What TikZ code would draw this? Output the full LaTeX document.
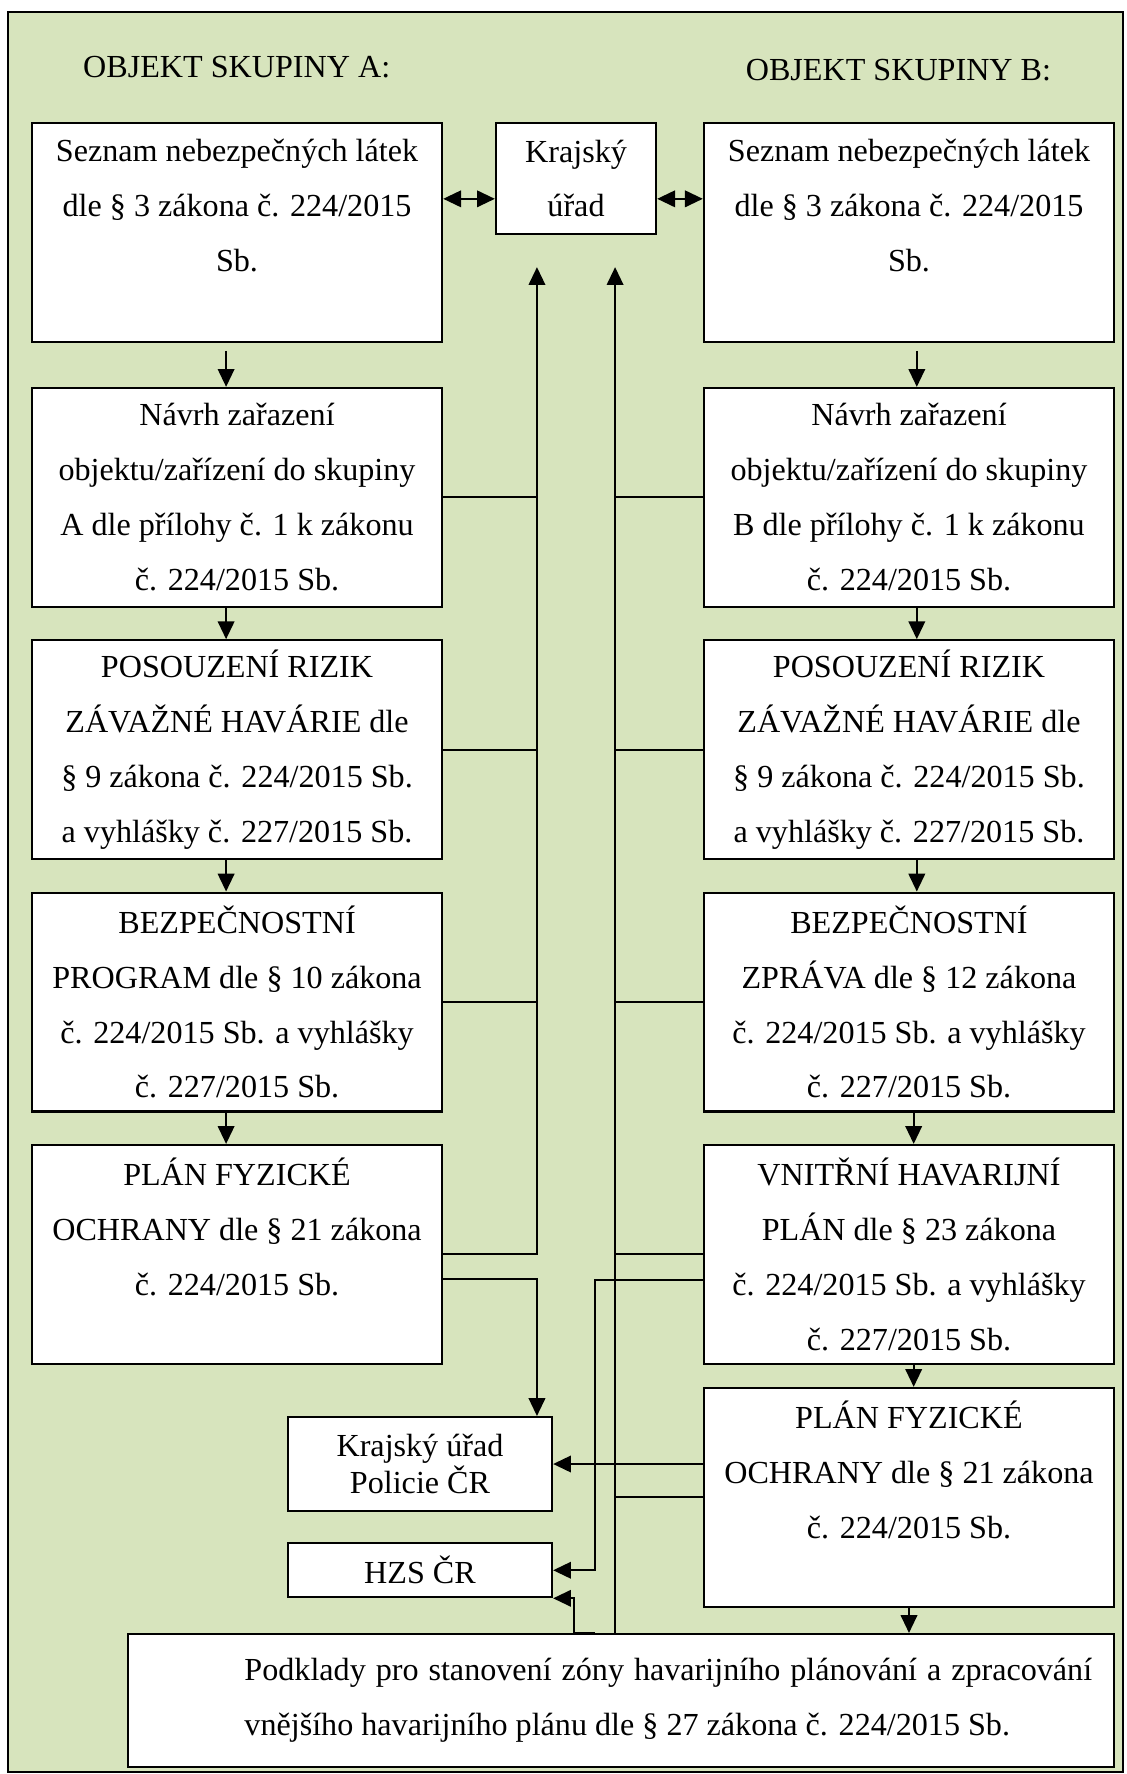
\documentclass[tikz,border=0pt]{standalone}
\usepackage{fontspec}
\setmainfont{Liberation Serif}
\usetikzlibrary{arrows.meta}
\definecolor{pozadi}{RGB}{215,228,189}
\tikzset{
  krok/.style={rectangle, draw, fill=white, minimum width=5.25cm, minimum height=2.8cm, align=center, font=\fontsize{11.7}{20}\selectfont},
  urad/.style={rectangle, draw, fill=white, align=center, font=\fontsize{11.7}{20}\selectfont},
  nadpis/.style={font=\fontsize{11.7}{14}\selectfont}
}

\begin{document}
\begin{tikzpicture}[node distance=3.23cm, thick, >={Triangle[length=6.5pt,width=6pt]}]
                % Pozadí
                \useasboundingbox (0,0) rectangle (14.413,-22.707);
                \draw[fill=pozadi] (0.10,-0.15) rectangle (14.37,-22.68);

                % Nadpisy
                \node (nadpisA) at (3.03,-0.86) [nadpis] {OBJEKT SKUPINY A:};
                \node (nadpisB) at (11.50,-0.90) [nadpis] {OBJEKT SKUPINY B:};

                % Skupina A
                \node (A1) at (3.034,-2.976) [krok] {Seznam nebezpečných látek\\ dle § 3 zákona č. 224/2015\\ Sb.\\ \mbox{}};
                \node (A2) [krok, below of=A1, yshift=-0.16cm] {Návrh zařazení\\ objektu/zařízení do skupiny\\ A dle přílohy č. 1 k zákonu\\ č. 224/2015 Sb.};
                \node (A3) [krok, below of=A2] {POSOUZENÍ RIZIK\\ ZÁVAŽNÉ HAVÁRIE dle\\ § 9 zákona č. 224/2015 Sb.\\ a vyhlášky č. 227/2015 Sb.};
                \node (A4) [krok, below of=A3] {BEZPEČNOSTNÍ\\ PROGRAM dle § 10 zákona\\ č. 224/2015 Sb. a vyhlášky\\ č. 227/2015 Sb.};
                \node (A5) [krok, below of=A4] {PLÁN FYZICKÉ\\ OCHRANY dle § 21 zákona\\ č. 224/2015 Sb.\\ \mbox{}};

                % Skupina B
                \node (B1) at (11.635,-2.976) [krok] {Seznam nebezpečných látek\\ dle § 3 zákona č. 224/2015\\ Sb.\\ \mbox{}};
                \node (B2) [krok, below of=B1, yshift=-0.16cm] {Návrh zařazení\\ objektu/zařízení do skupiny\\ B dle přílohy č. 1 k zákonu\\ č. 224/2015 Sb.};
                \node (B3) [krok, below of=B2] {POSOUZENÍ RIZIK\\ ZÁVAŽNÉ HAVÁRIE dle\\ § 9 zákona č. 224/2015 Sb.\\ a vyhlášky č. 227/2015 Sb.};
                \node (B4) [krok, below of=B3] {BEZPEČNOSTNÍ\\ ZPRÁVA dle § 12 zákona\\ č. 224/2015 Sb. a vyhlášky\\ č. 227/2015 Sb.};
                \node (B5) [krok, below of=B4] {VNITŘNÍ HAVARIJNÍ\\ PLÁN dle § 23 zákona\\ č. 224/2015 Sb. a vyhlášky\\ č. 227/2015 Sb.};
                \node (B6) [krok, below of=B5, yshift=0.12cm] {PLÁN FYZICKÉ\\ OCHRANY dle § 21 zákona\\ č. 224/2015 Sb.\\ \mbox{}};

                % Úřady
                \node (kraj) at (7.373,-2.285) [urad, minimum width=2.05cm, minimum height=1.42cm] {Krajský\\ úřad};
                \node (policie) at (5.376,-18.739) [urad, minimum width=3.38cm, minimum height=1.2cm, font=\fontsize{11.7}{12.5}\selectfont] {Krajský úřad\\ Policie ČR};
                \node (hzs) [urad, node distance=1.36cm, below of=policie, minimum width=3.38cm, minimum height=0.69cm] {HZS ČR};
                \node (dole) at (7.949,-21.766) [rectangle, draw, fill=white, minimum width=12.62cm, minimum height=1.7cm, inner sep=0pt, font=\fontsize{11.7}{20}\selectfont] {\hspace*{1.49cm}\parbox{10.85cm}{Podklady pro stanovení zóny havarijního plánování a zpracování\break vnějšího havarijního plánu dle § 27 zákona č. 224/2015 Sb.}\hspace*{0.28cm}};

                % Šipky mezi kroky
                \coordinate (kw) at ([yshift=-0.26cm]kraj.west);
                \coordinate (ke) at ([yshift=-0.26cm]kraj.east);
                \draw[<->] (A1.east |- kw) -- (kw);
                \draw[<->] (ke) -- (B1.west |- ke);

                \draw[->, shorten <=0.1cm] ([xshift=-0.14cm]A1.south) -- ([xshift=-0.14cm]A2.north);
                \draw[->] ([xshift=-0.14cm]A2.south) -- ([xshift=-0.14cm]A3.north);
                \draw[->] ([xshift=-0.14cm]A3.south) -- ([xshift=-0.14cm]A4.north);
                \draw[->] ([xshift=-0.14cm]A4.south) -- ([xshift=-0.14cm]A5.north);
                \draw[->, shorten <=0.1cm] ([xshift=0.1cm]B1.south) -- ([xshift=0.1cm]B2.north);
                \draw[->] ([xshift=0.1cm]B2.south) -- ([xshift=0.1cm]B3.north);
                \draw[->] ([xshift=0.1cm]B3.south) -- ([xshift=0.1cm]B4.north);
                \draw[->] ([xshift=0.06cm]B4.south) -- ([xshift=0.06cm]B5.north);
                \draw[->] ([xshift=0.06cm]B5.south) -- ([xshift=0.06cm]B6.north);
                \draw[->] (B6.south) -- (dole.north -| B6.south);

                % Vedení ke krajskému úřadu
                \coordinate (kin1) at ([xshift=-0.5cm,yshift=-0.41cm]kraj.south);
                \coordinate (kin2) at ([xshift=0.5cm,yshift=-0.41cm]kraj.south);
                \draw[->] (A5.east) -| (kin1);
                \draw (A2.east) -- (A2.east -| kin1);
                \draw (A3.east) -- (A3.east -| kin1);
                \draw (A4.east) -- (A4.east -| kin1);
                \draw[->] (kin2 |- dole.north) -- (kin2);
                \draw (B2.west) -- (B2.west -| kin2);
                \draw (B3.west) -- (B3.west -| kin2);
                \draw (B4.west) -- (B4.west -| kin2);
                \draw (B5.west) -- (B5.west -| kin2);
                \draw (B6.west) -- (B6.west -| kin2);

                % Vedení k policii a HZS
                \coordinate (ohyb) at ([xshift=-0.26cm]kin2);
                \draw[->] ([yshift=-0.32cm]A5.east) -| (policie.north -| kin1);
                \draw[->] (B6.west |- policie.east) -- (policie.east);
                \draw[->] ([yshift=-0.33cm]B5.west) -| (ohyb |- hzs.east) -- (hzs.east);
                \draw[->] (ohyb |- dole.north) -- ++(-0.27cm,0) |- (hzs.south east);
\end{tikzpicture}
\end{document}
